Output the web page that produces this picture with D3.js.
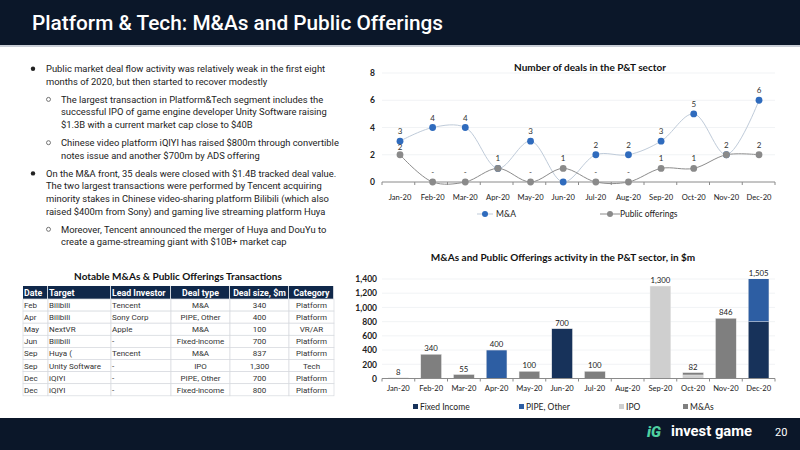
<!DOCTYPE html>
<html><head><meta charset="utf-8">
<script src="https://cdn.jsdelivr.net/npm/d3@7"></script>
<style>
body{margin:0;background:#fff;}
svg{display:block;}
</style></head>
<body>
<svg id="c" width="800" height="450"></svg>
<script>
// ---------- DATA ----------
const months = ["Jan-20","Feb-20","Mar-20","Apr-20","May-20","Jun-20","Jul-20","Aug-20","Sep-20","Oct-20","Nov-20","Dec-20"];
const maDeals = [3,4,4,1,3,0,2,2,3,5,2,6];
const poDeals = [2,0,0,1,0,1,0,0,1,1,2,2];
const dealTicks = [0,2,4,6,8];

const fixedIncome = [0,0,0,0,0,700,0,0,0,0,0,800];
const pipeOther   = [0,0,0,400,0,0,0,0,0,0,0,700];
const ipoValue    = [0,0,0,0,0,0,0,0,1300,50,0,0];
const mnaValue    = [8,340,55,0,100,0,100,0,0,32,846,5];
const valueTicks = [0,200,400,600,800,1000,1200,1400];

const tableCols = ["Date","Target","Lead Investor","Deal type","Deal size, $m","Category"];
const tDate     = ["Feb","Apr","May","Jun","Sep","Sep","Dec","Dec"];
const tTarget   = ["Bilibili","Bilibili","NextVR","Bilibili","Huya (","Unity Software","iQIYI","iQIYI"];
const tInvestor = ["Tencent","Sony Corp","Apple","-","Tencent","-","-","-"];
const tType     = ["M&A","PIPE, Other","M&A","Fixed-income","M&A","IPO","PIPE, Other","Fixed-income"];
const tSize     = ["340","400","100","700","837","1,300","700","800"];
const tCategory = ["Platform","Platform","VR/AR","Platform","Platform","Tech","Platform","Platform"];

const bullets = [
  {lvl:0, lines:["Public market deal flow activity was relatively weak in the first eight","months of 2020, but then started to recover modestly"]},
  {lvl:1, lines:["The largest transaction in Platform&Tech segment includes the","successful IPO of game engine developer Unity Software raising","$1.3B with a current market cap close to $40B"]},
  {lvl:1, lines:["Chinese video platform iQIYI has raised $800m through convertible","notes issue and another $700m by ADS offering"]},
  {lvl:0, lines:["On the M&A front, 35 deals were closed with $1.4B tracked deal value.","The two largest transactions were performed by Tencent acquiring","minority stakes in Chinese video-sharing platform Bilibili (which also","raised $400m from Sony) and gaming live streaming platform Huya"]},
  {lvl:1, lines:["Moreover, Tencent announced the merger of Huya and DouYu to","create a game-streaming giant with $10B+ market cap"]}
];

// ---------- SETUP ----------
const svg = d3.select("#c");
const navy = "#0b1729";
const chartFont = "Lato, 'DejaVu Sans', sans-serif";
const bodyFont = "Roboto, 'Noto Sans', sans-serif";

// Header
svg.append("rect").attr("x",0).attr("y",0).attr("width",800).attr("height",45).attr("fill",navy);
svg.append("rect").attr("x",0).attr("y",45).attr("width",800).attr("height",2).attr("fill","#c9ced6");
svg.append("text").attr("x",32).attr("y",30).attr("fill","#fff")
  .attr("font-family",bodyFont).attr("font-size",20.8).attr("font-weight",500)
  .text("Platform & Tech: M&As and Public Offerings");

// Footer
svg.append("rect").attr("x",0).attr("y",418).attr("width",800).attr("height",32).attr("fill",navy);
svg.append("text").attr("x",647).attr("y",437).attr("fill","#4fd1a1")
  .attr("font-family",bodyFont).attr("font-size",15).attr("font-weight",900).attr("font-style","italic").text("iG");
svg.append("text").attr("x",671).attr("y",436).attr("fill","#fff")
  .attr("font-family",bodyFont).attr("font-size",14.8).attr("font-weight",700).text("invest game");
svg.append("text").attr("x",775).attr("y",436).attr("fill","#fff")
  .attr("font-family",bodyFont).attr("font-size",11).text("20");

// Bullets
let yy = 72;
bullets.forEach((b,bi)=>{
  if(bi>0) yy += 5.5;
  const tx = b.lvl===0 ? 46 : 61;
  if(b.lvl===0){
    svg.append("circle").attr("cx",33).attr("cy",yy-3.3).attr("r",2.2).attr("fill","#222");
  } else {
    svg.append("circle").attr("cx",48.5).attr("cy",yy-3.3).attr("r",2).attr("fill","none").attr("stroke","#555").attr("stroke-width",0.8);
  }
  b.lines.forEach(l=>{
    svg.append("text").attr("x",tx).attr("y",yy).attr("fill","#222")
      .attr("font-family",bodyFont).attr("font-size",9.4).text(l);
    yy += 12.6;
  });
});

// ---------- TABLE ----------
const colX = [23,48,111,171,230,289,334];
const colAlign = ["start","start","start","middle","middle","middle"];
const tTop = 286, hdrH = 13, rowH = 12.1;
svg.append("text").attr("x",178).attr("y",280).attr("text-anchor","middle")
  .attr("font-family",chartFont).attr("font-size",10).attr("font-weight",700).attr("fill","#111")
  .text("Notable M&As & Public Offerings Transactions");
tableCols.forEach((c,i)=>{
  svg.append("rect").attr("x",colX[i]).attr("y",tTop).attr("width",colX[i+1]-colX[i]-0.8).attr("height",hdrH).attr("fill","#10284a");
  const x = colAlign[i]==="middle" ? (colX[i]+colX[i+1])/2 : colX[i]+1;
  svg.append("text").attr("x",x).attr("y",tTop+9.8).attr("text-anchor",colAlign[i])
    .attr("font-family",bodyFont).attr("font-size",8.8).attr("font-weight",700).attr("fill","#fff").text(c);
});
const rows = tDate.map((d,i)=>[d,tTarget[i],tInvestor[i],tType[i],tSize[i],tCategory[i]]);
rows.forEach((r,ri)=>{
  const y0 = tTop+hdrH+ri*rowH;
  r.forEach((v,i)=>{
    svg.append("rect").attr("x",colX[i]).attr("y",y0).attr("width",colX[i+1]-colX[i]).attr("height",rowH)
      .attr("fill","#fff").attr("stroke","#d6d9de").attr("stroke-width",0.7);
    const x = colAlign[i]==="middle" ? (colX[i]+colX[i+1])/2 : colX[i]+1;
    svg.append("text").attr("x",x).attr("y",y0+9).attr("text-anchor",colAlign[i])
      .attr("font-family",bodyFont).attr("font-size",8).attr("fill","#333").text(v);
  });
});

// ---------- LINE CHART ----------
const lx = d3.scalePoint().domain(months).range([400,759]);
const ly = d3.scaleLinear().domain([0,8]).range([182,73]);
svg.append("text").attr("x",590).attr("y",71).attr("text-anchor","middle")
  .attr("font-family",chartFont).attr("font-size",10).attr("font-weight",700).attr("fill","#111")
  .text("Number of deals in the P&T sector");
const lg = svg.append("g");
dealTicks.filter(t=>t>0).forEach(t=>{
  lg.append("line").attr("x1",382).attr("x2",775).attr("y1",ly(t)).attr("y2",ly(t)).attr("stroke","#eef0f3").attr("stroke-width",0.8);
});
const lyAxis = d3.axisLeft(ly).tickValues(dealTicks).tickSize(0).tickPadding(0);
const gly = svg.append("g").attr("transform","translate(375,0)").call(lyAxis);
gly.select(".domain").remove();
gly.selectAll("text").attr("font-family",chartFont).attr("font-size",8.5).attr("font-weight",700).attr("fill","#222");
const bandL = d3.scaleBand().domain(months).range([382,775]);
svg.append("line").attr("x1",382).attr("x2",775).attr("y1",182).attr("y2",182).attr("stroke","#8a8a8a").attr("stroke-width",1);
months.concat(["end"]).forEach((m,i)=>{
  const x = 382 + i*bandL.step();
  svg.append("line").attr("x1",x).attr("x2",x).attr("y1",182).attr("y2",185).attr("stroke","#8a8a8a");
});
months.forEach(m=>{
  svg.append("text").attr("x",lx(m)).attr("y",200).attr("text-anchor","middle")
    .attr("font-family",chartFont).attr("font-size",7.6).attr("fill","#222").text(m);
});
const lineGen = d3.line().x((d,i)=>lx(months[i])).y(d=>ly(d)).curve(d3.curveCatmullRom.alpha(0.5));
svg.append("path").datum(maDeals).attr("d",lineGen).attr("fill","none").attr("stroke","#bfcbd9").attr("stroke-width",1);
svg.selectAll(".mad").data(maDeals).enter().append("circle")
  .attr("cx",(d,i)=>lx(months[i])).attr("cy",d=>ly(d)).attr("r",3.4).attr("fill","#2f6bbd");
svg.append("path").datum(poDeals).attr("d",lineGen).attr("fill","none").attr("stroke","#8c8c8c").attr("stroke-width",1);
svg.selectAll(".pod").data(poDeals).enter().append("circle")
  .attr("cx",(d,i)=>lx(months[i])).attr("cy",d=>ly(d)).attr("r",3.4).attr("fill","#8a8a8a");
maDeals.forEach((d,i)=>{
  if(d===0 || d===poDeals[i]) return;
  svg.append("text").attr("x",lx(months[i])).attr("y",ly(d)-7).attr("text-anchor","middle")
    .attr("font-family",chartFont).attr("font-size",8).attr("fill","#333").text(d);
});
poDeals.forEach((d,i)=>{
  svg.append("text").attr("x",lx(months[i])).attr("y",ly(d)-(i===0?4.5:7)).attr("text-anchor","middle")
    .attr("font-family",chartFont).attr("font-size",8).attr("fill","#333").text(d===0?"-":d);
});
svg.append("line").attr("x1",477).attr("x2",493).attr("y1",214).attr("y2",214).attr("stroke","#bfcbd9");
svg.append("circle").attr("cx",485).attr("cy",214).attr("r",3).attr("fill","#2f6bbd");
svg.append("text").attr("x",496).attr("y",217).attr("font-family",chartFont).attr("font-size",8.5).attr("fill","#222").text("M&A");
svg.append("line").attr("x1",600).attr("x2",620).attr("y1",214).attr("y2",214).attr("stroke","#8c8c8c");
svg.append("circle").attr("cx",610).attr("cy",214).attr("r",3).attr("fill","#8a8a8a");
svg.append("text").attr("x",620).attr("y",217).attr("font-family",chartFont).attr("font-size",8.5).attr("fill","#222").text("Public offerings");

// ---------- BAR CHART ----------
const keys = ["Fixed Income","PIPE, Other","IPO","M&As"];
const colors = ["#17325a","#2d5ea3","#cfcfcf","#7f7f7f"];
const rowsB = months.map((m,i)=>({month:m,"Fixed Income":fixedIncome[i],"PIPE, Other":pipeOther[i],"IPO":ipoValue[i],"M&As":mnaValue[i]}));
const stack = d3.stack().keys(keys)(rowsB);
const bx = d3.scaleBand().domain(months).range([382,775]).paddingInner(0.37).paddingOuter(0.185);
const by = d3.scaleLinear().domain([0,1400]).range([378.5,279]);
svg.append("text").attr("x",563).attr("y",261).attr("text-anchor","middle")
  .attr("font-family",chartFont).attr("font-size",10).attr("font-weight",700).attr("fill","#111")
  .text("M&As and Public Offerings activity in the P&T sector, in $m");
valueTicks.filter(t=>t>0).forEach(t=>{
  svg.append("line").attr("x1",382).attr("x2",775).attr("y1",by(t)).attr("y2",by(t)).attr("stroke","#eef0f3").attr("stroke-width",0.8);
});
const byAxis = d3.axisLeft(by).tickValues(valueTicks).tickFormat(d3.format(",")).tickSize(0).tickPadding(0);
const gby = svg.append("g").attr("transform","translate(377,0)").call(byAxis);
gby.select(".domain").remove();
gby.selectAll("text").attr("font-family",chartFont).attr("font-size",8.5).attr("font-weight",700).attr("fill","#222");
svg.append("defs").append("clipPath").attr("id","bclip").append("rect").attr("x",382).attr("y",279).attr("width",400).attr("height",100);
const bg = svg.append("g").attr("clip-path","url(#bclip)");
stack.forEach((s,k)=>{
  bg.selectAll(null).data(s).enter().append("rect")
    .attr("x",d=>bx(d.data.month)).attr("width",bx.bandwidth())
    .attr("y",d=>by(d[1])).attr("height",d=>Math.max(0,by(d[0])-by(d[1])))
    .attr("fill",colors[k]).attr("stroke","#e6e6e6").attr("stroke-width",0.4);
});
svg.append("line").attr("x1",382).attr("x2",775).attr("y1",378.5).attr("y2",378.5).attr("stroke","#8a8a8a").attr("stroke-width",1);
months.concat(["end"]).forEach((m,i)=>{
  const x = 382 + i*bx.step();
  svg.append("line").attr("x1",x).attr("x2",x).attr("y1",378.5).attr("y2",381.5).attr("stroke","#8a8a8a");
});
months.forEach(m=>{
  svg.append("text").attr("x",bx(m)+bx.bandwidth()/2).attr("y",391).attr("text-anchor","middle")
    .attr("font-family",chartFont).attr("font-size",7.6).attr("fill","#222").text(m);
});
rowsB.forEach((r,i)=>{
  const tot = fixedIncome[i]+pipeOther[i]+ipoValue[i]+mnaValue[i];
  if(tot===0) return;
  svg.append("text").attr("x",bx(r.month)+bx.bandwidth()/2).attr("y",by(Math.min(tot,1400))-3).attr("text-anchor","middle")
    .attr("font-family",chartFont).attr("font-size",7.8).attr("fill","#222").text(d3.format(",")(tot));
});
const legX = [413,519,619,683];
keys.forEach((k,i)=>{
  svg.append("rect").attr("x",legX[i]).attr("y",404).attr("width",5).attr("height",5).attr("fill",colors[i]);
  svg.append("text").attr("x",legX[i]+7).attr("y",409.5).attr("font-family",chartFont).attr("font-size",8.5).attr("fill","#222").text(k);
});
</script>
</body></html>
